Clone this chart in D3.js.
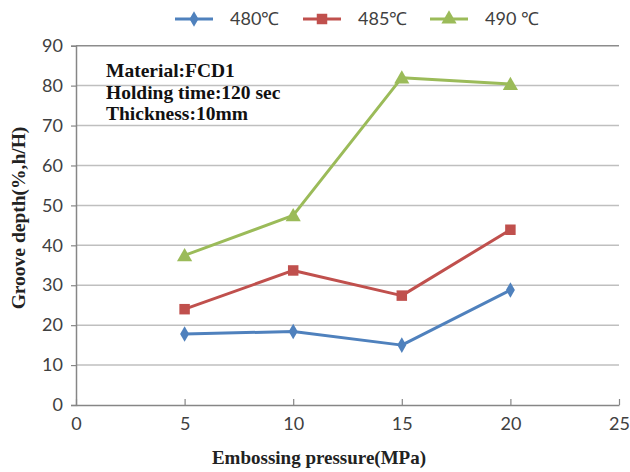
<!DOCTYPE html>
<html><head><meta charset="utf-8">
<script src="https://cdn.jsdelivr.net/npm/d3@7"></script>
<style>body{margin:0;background:#fff}svg{display:block}</style>
</head><body>
<svg id="c" width="630" height="472"></svg>
<script>
const pressures = [5, 10, 15, 20];
const seriesNames = ["480℃", "485℃", "490 ℃"];
const s480 = [17.8, 18.4, 15.0, 28.8];
const s485 = [24.0, 33.7, 27.4, 43.9];
const s490 = [37.5, 47.5, 82.0, 80.4];
const xTicks = [0, 5, 10, 15, 20, 25];
const yTicks = [0, 10, 20, 30, 40, 50, 60, 70, 80, 90];
const notes = ["Material:FCD1", "Holding time:120 sec", "Thickness:10mm"];
const xTitle = "Embossing pressure(MPa)";
const yTitle = "Groove depth(%,h/H)";

const colors = ["#4F81BD", "#C0504D", "#9BBB59"];
const symbols = [d3.symbolDiamond, d3.symbolSquare, d3.symbolTriangle];
const symSizes = [70, 110, 100];
const allSeries = [s480, s485, s490];

const svg = d3.select("#c");
const x = d3.scaleLinear().domain([0, 25]).range([76, 619]);
const y = d3.scaleLinear().domain([0, 90]).range([405, 45.7]);

// gridlines
svg.append("g").selectAll("line").data(yTicks.filter(v => v > 0)).join("line")
  .attr("x1", x(0)).attr("x2", x(25))
  .attr("y1", d => y(d)).attr("y2", d => y(d))
  .attr("stroke", d => d === 90 ? "#8c8c8c" : "#bfbfbf").attr("stroke-width", 1.5);

// y axis
const yAxis = svg.append("g").attr("transform", `translate(${x(0)},0)`)
  .call(d3.axisLeft(y).tickValues(yTicks).tickSize(5).tickPadding(8));
yAxis.select(".domain").attr("stroke", "#868686").attr("stroke-width", 1.5);
yAxis.selectAll(".tick line").attr("stroke", "#868686").attr("stroke-width", 1.2);
yAxis.selectAll("text").attr("font-family", "Lato, sans-serif").attr("font-size", 18).attr("fill", "#404040");

// x axis
const xAxis = svg.append("g").attr("transform", `translate(0,${y(0)})`)
  .call(d3.axisBottom(x).tickValues(xTicks).tickSizeInner(-6).tickSizeOuter(0).tickPadding(12));
xAxis.select(".domain").attr("stroke", "#868686").attr("stroke-width", 1.5);
xAxis.selectAll(".tick line").attr("stroke", "#868686").attr("stroke-width", 1.2);
xAxis.selectAll("text").attr("font-family", "Lato, sans-serif").attr("font-size", 18).attr("fill", "#404040");

// lines
const line = d3.line().x((d, i) => x(pressures[i])).y(d => y(d));
allSeries.forEach((s, k) => {
  svg.append("path").datum(s).attr("d", line)
    .attr("fill", "none").attr("stroke", colors[k]).attr("stroke-width", 3).attr("stroke-linejoin", "round");
  svg.append("g").selectAll("path").data(s).join("path")
    .attr("transform", (d, i) => `translate(${x(pressures[i])},${y(d) + (k === 2 ? 1.5 : 0)})`)
    .attr("d", d3.symbol().type(symbols[k]).size(symSizes[k]))
    .attr("fill", colors[k]);
});

// notes
svg.append("g").selectAll("text").data(notes).join("text")
  .attr("x", 106).attr("y", (d, i) => 77 + i * 21.5)
  .attr("font-family", "'Liberation Serif', serif").attr("font-weight", "bold").attr("font-size", 19.5)
  .attr("fill", "#111").text(d => d);

// axis titles
svg.append("text").attr("x", 319).attr("y", 464).attr("text-anchor", "middle")
  .attr("font-family", "'Liberation Serif', serif").attr("font-weight", "bold").attr("font-size", 19)
  .attr("fill", "#222").text(xTitle);
svg.append("text").attr("transform", "translate(25,218) rotate(-90)").attr("text-anchor", "middle")
  .attr("font-family", "'Liberation Serif', serif").attr("font-weight", "bold").attr("font-size", 19.5)
  .attr("fill", "#222").text(yTitle);

// legend
const legX = [175, 303, 430];
const lg = svg.append("g").selectAll("g").data(seriesNames).join("g")
  .attr("transform", (d, i) => `translate(${legX[i]},19)`);
lg.append("line").attr("x1", 0).attr("x2", 38).attr("y1", 0).attr("y2", 0)
  .attr("stroke", (d, i) => colors[i]).attr("stroke-width", 3);
lg.append("path").attr("transform", "translate(19,0)")
  .attr("d", (d, i) => d3.symbol().type(symbols[i]).size(symSizes[i])())
  .attr("fill", (d, i) => colors[i]);
lg.append("text").attr("x", 55).attr("y", 0).attr("dy", "0.35em")
  .attr("font-family", "Lato, sans-serif").attr("font-size", 18).attr("fill", "#404040")
  .text(d => d);
</script>
</body></html>
